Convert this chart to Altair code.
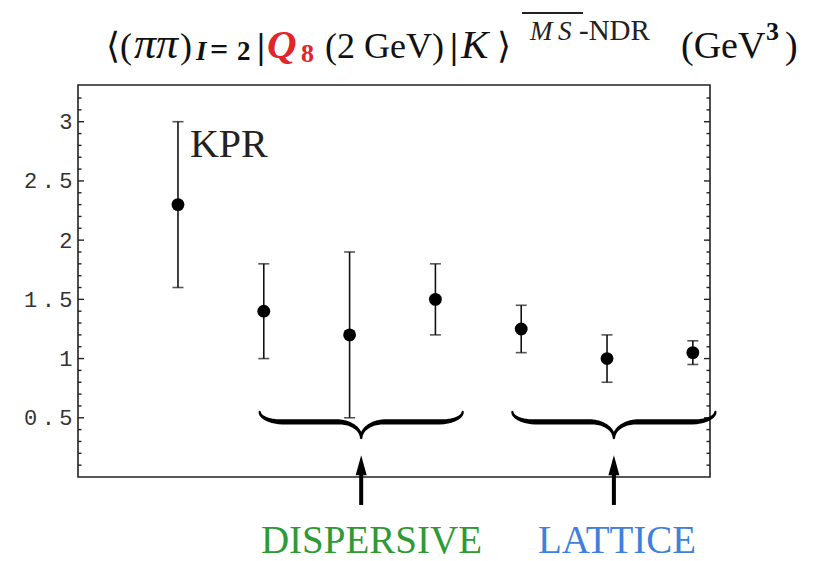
import altair as alt
import numpy as np
import pandas as pd

# ---------------- data ----------------
x_pos = [1, 2, 3, 4, 5, 6, 7]
values = [2.3, 1.4, 1.2, 1.5, 1.25, 1.0, 1.05]
err_low = [1.6, 1.0, 0.5, 1.2, 1.05, 0.8, 0.95]
err_high = [3.0, 1.8, 1.9, 1.8, 1.45, 1.2, 1.15]

y_major = [0.5, 1, 1.5, 2, 2.5, 3]
y_minor = [round(k * 0.1, 1) for k in range(1, 33) if k % 5 != 0]

kpr_text = ["KPR"]
kpr_x = [1.14]
kpr_y = [2.70]

group_labels = ["DISPERSIVE", "LATTICE"]
group_label_x = [3.255, 6.117]
group_colors = ["#2e9a35", "#3f7fe0"]
brace_centers = [3.135, 6.08]
brace_half = 1.183
brace_level = 0.465
arrow_tip = 0.10
arrow_bottom = -0.236

W, H = 632, 392
L, T = 78, 85
SER = "Liberation Serif, serif"

xs = alt.Scale(domain=[-0.165, 7.2], nice=False, zero=False)
ys = alt.Scale(domain=[0, 3.31], nice=False, zero=False)

df = pd.DataFrame({"x": x_pos, "v": values, "lo": err_low, "hi": err_high})

# ---------------- data marks ----------------
bars = alt.Chart(df).mark_rule(color="#111", strokeWidth=1.6).encode(
    x=alt.X("x:Q", scale=xs, axis=None),
    y=alt.Y("lo:Q", scale=ys, axis=alt.Axis(
        values=y_major, format="~g",
        labelExpr="replace(datum.label, '.', '\u2009.\u2009')",
        labelFont="Liberation Mono", labelFontSize=22, labelColor="#333",
        ticks=False, tickSize=0, domain=False, grid=False, labelPadding=6, title=None)),
    y2="hi:Q",
)
cap_lo = alt.Chart(df).mark_tick(color="#111", orient="horizontal", size=11, thickness=1.6).encode(
    x=alt.X("x:Q", scale=xs), y=alt.Y("lo:Q", scale=ys))
cap_hi = alt.Chart(df).mark_tick(color="#111", orient="horizontal", size=11, thickness=1.6).encode(
    x=alt.X("x:Q", scale=xs), y=alt.Y("hi:Q", scale=ys))
pts = alt.Chart(df).mark_point(filled=True, color="#000", shape="circle", size=165, opacity=1).encode(
    x=alt.X("x:Q", scale=xs), y=alt.Y("v:Q", scale=ys))

# ---------------- inside ticks ----------------
tmaj = pd.DataFrame({"t": y_major})
tmin = pd.DataFrame({"t": y_minor})
ticks = []
for d, ln in ((tmaj, 6), (tmin, 3.5)):
    ticks.append(alt.Chart(d).mark_rule(color="#222", strokeWidth=1.4).encode(
        x=alt.value(0), x2=alt.value(ln), y=alt.Y("t:Q", scale=ys)))
    ticks.append(alt.Chart(d).mark_rule(color="#222", strokeWidth=1.4).encode(
        x=alt.value(W), x2=alt.value(W - ln), y=alt.Y("t:Q", scale=ys)))

# ---------------- braces ----------------
def brace(cx, hw, yb, curl=0.085, depth=0.135, c=0.268, c2=0.268, n=10):
    t = np.linspace(0, np.pi / 2, n)
    x0, x1 = cx - hw, cx + hw
    segs = []
    segs.append((x0 + c - c * np.cos(t), yb + curl - curl * np.sin(t), np.linspace(2.2, 5.2, n)))
    segs.append((cx - c2 + c2 * np.sin(t), yb - depth + depth * np.cos(t), np.linspace(5.2, 2.4, n)))
    segs.append((cx + c2 - c2 * np.sin(t[::-1]), yb - depth + depth * np.cos(t[::-1]), np.linspace(2.4, 5.2, n)))
    segs.append((x1 - c + c * np.cos(t[::-1]), yb + curl - curl * np.sin(t[::-1]), np.linspace(5.2, 2.2, n)))
    xsv = np.concatenate([s[0] for s in segs])
    ysv = np.concatenate([s[1] for s in segs])
    wv = np.concatenate([s[2] for s in segs])
    return xsv, ysv, wv

rows = []
for bi, cx in enumerate(brace_centers):
    bx, by, bw = brace(cx, brace_half, brace_level)
    for k in range(len(bx)):
        rows.append({"b": bi, "k": k, "x": float(bx[k]), "y": float(by[k]), "w": float(bw[k])})
bdf = pd.DataFrame(rows)
braces = alt.Chart(bdf).mark_trail(color="#000").encode(
    x=alt.X("x:Q", scale=xs), y=alt.Y("y:Q", scale=ys),
    size=alt.Size("w:Q", scale=None), detail="b:N", order="k:Q")

adf = pd.DataFrame({"x": brace_centers, "y0": [arrow_bottom] * 2, "y1": [arrow_tip] * 2})
shafts = alt.Chart(adf).mark_rule(color="#000", strokeWidth=4).encode(
    x=alt.X("x:Q", scale=xs), y=alt.Y("y0:Q", scale=ys), y2="y1:Q")
heads = alt.Chart(adf).mark_point(filled=True, color="#000", opacity=1,
                                  shape="M0,-1L0.55,1L-0.55,1Z", size=400).encode(
    x=alt.X("x:Q", scale=xs), y=alt.Y("y1:Q", scale=ys))

# ---------------- labels ----------------
kdf = pd.DataFrame({"t": kpr_text, "x": kpr_x, "y": kpr_y})
kpr = alt.Chart(kdf).mark_text(font=SER, fontSize=40, fontStyle="normal", fontWeight="normal",
                               color="#222", align="left", baseline="alphabetic").encode(
    x=alt.X("x:Q", scale=xs), y=alt.Y("y:Q", scale=ys), text="t:N")

gdf = pd.DataFrame({"t": group_labels, "x": group_label_x, "c": group_colors})
glab = alt.Chart(gdf).mark_text(font=SER, fontSize=39, fontStyle="normal", fontWeight="normal",
                                align="center", baseline="alphabetic").encode(
    x=alt.X("x:Q", scale=xs), y=alt.value(553 - T), text="t:N",
    color=alt.Color("c:N", scale=None))

# ---------------- title (rich text pieces) ----------------
title_tokens = ["⟨", "(", "ππ", ")", "I", "=", "2", "|", "Q", "8", "(2 GeV)", "|", "K", "⟩",
                "M", "S", "-NDR", "(GeV", "3", ")"]
# layout: absolute x, baseline, size, style, weight, colour
title_layout = [
    (106, 58, 36, "normal", "normal", "#111"),
    (120, 58, 36, "normal", "normal", "#111"),
    (134, 58, 44, "italic", "normal", "#111"),
    (180, 58, 36, "normal", "normal", "#111"),
    (196, 60, 27, "italic", "bold", "#111"),
    (210, 60, 32, "normal", "bold", "#111"),
    (237, 60, 27, "normal", "bold", "#111"),
    (257, 58, 36, "normal", "bold", "#111"),
    (267, 58, 41, "italic", "bold", "#e3252b"),
    (301, 62, 26, "normal", "bold", "#e3252b"),
    (325, 58, 36, "normal", "normal", "#111"),
    (450, 58, 36, "normal", "bold", "#111"),
    (461, 58, 41, "italic", "normal", "#111"),
    (497, 58, 36, "normal", "normal", "#111"),
    (530, 40, 27, "italic", "normal", "#222"),
    (558, 40, 27, "italic", "normal", "#222"),
    (579, 40, 29, "normal", "normal", "#222"),
    (681, 58, 38, "normal", "normal", "#111"),
    (766, 40, 26, "normal", "bold", "#111"),
    (785, 58, 38, "normal", "normal", "#111"),
]
title_layers = []
for tok, (ax, ab, fs, st, wt, col) in zip(title_tokens, title_layout):
    title_layers.append(
        alt.Chart(pd.DataFrame({"t": [tok]})).mark_text(
            font=SER, fontSize=fs, fontStyle=st, fontWeight=wt, color=col,
            align="left", baseline="alphabetic").encode(
            x=alt.value(ax - L), y=alt.value(ab - T), text="t:N"))
overline = alt.Chart(pd.DataFrame({"t": [0]})).mark_rule(color="#222", strokeWidth=2).encode(
    x=alt.value(522 - L), x2=alt.value(583 - L), y=alt.value(13 - T))

chart = alt.layer(
    bars, cap_lo, cap_hi, pts, *ticks, braces, shafts, heads, kpr, glab, *title_layers, overline
).properties(
    width=W, height=H, autosize=alt.AutoSizeParams(type="none"),
    padding={"left": L, "top": T, "right": 831 - L - W, "bottom": 561 - T - H},
    background="white",
).configure_view(stroke="#222", strokeWidth=1.6)

chart.save("out.html", embed_options={"renderer": "svg", "actions": False})
